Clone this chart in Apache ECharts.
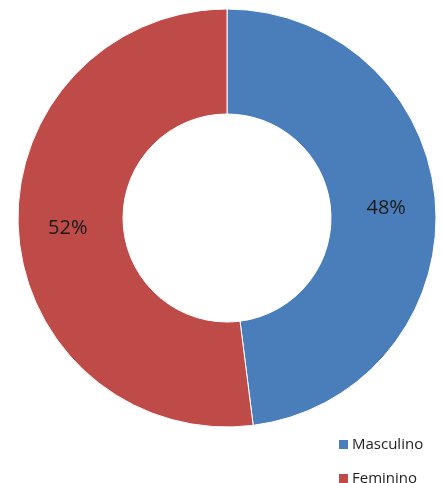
<!DOCTYPE html>
<html><head><meta charset="utf-8">
<script src="https://cdn.jsdelivr.net/npm/echarts@6/dist/echarts.min.js"></script>
<style>html,body{margin:0;padding:0;background:#fff}#c{width:443px;height:483px}</style>
</head><body><div id="c"></div>
<script>
var categories = ["Masculino", "Feminino"];
var values = [48, 52];
var colors = ["#4A7EBB", "#BE4B48"];

var legendTops = [437, 471];
var chart = echarts.init(document.getElementById('c'), null, {renderer: 'canvas'});
chart.setOption({
  animation: false,
  color: colors,
  legend: categories.map(function (c, i) {
    return {
      orient: 'vertical', left: 337, top: legendTops[i],
      itemWidth: 11, itemHeight: 11, itemGap: 0, padding: 0,
      icon: 'rect',
      textStyle: {fontFamily: 'Open Sans', fontSize: 15, color: '#222', padding: [0, 0, 0, -2]},
      data: [c]
    };
  }),
  series: [{
    type: 'pie',
    center: [227, 218],
    radius: [104, 209],
    startAngle: 90,
    clockwise: true,
    itemStyle: {borderColor: '#fff', borderWidth: 1},
    label: {
      position: 'inside', formatter: '{d}%',
      fontFamily: 'Open Sans', fontSize: 20, color: '#1a1a1a'
    },
    labelLine: {show: false},
    emphasis: {disabled: true},
    data: categories.map(function (c, i) { return {name: c, value: values[i]}; })
  }]
});
</script></body></html>
